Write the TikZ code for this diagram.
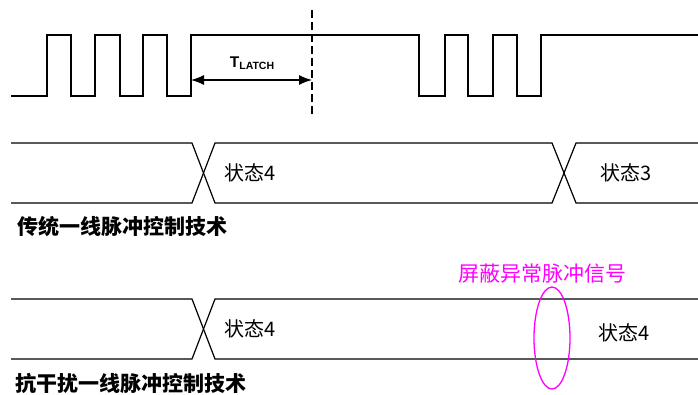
\documentclass[tikz,border=0pt]{standalone}
\usepackage{fontspec}
\setmainfont{Noto Sans CJK SC}
\newfontfamily\latchfont{Liberation Sans}
\usetikzlibrary{arrows.meta,positioning,calc}
\definecolor{MaskPink}{HTML}{FF00FF}
\newcommand{\TLatch}{{\latchfont\bfseries\fontsize{15.5}{16}\selectfont T\raisebox{-0.3ex}{\fontsize{10.5}{11}\selectfont LATCH}}}
\begin{document}
\begin{tikzpicture}[x=1pt,y=-1pt,
  wave/.style={line width=1.2pt,black},
  busline/.style={line width=1.2pt,black},
  marker/.style={line width=1.2pt,black,dash pattern=on 8pt off 4pt},
  arr/.style={{Latex[length=13pt,width=10pt]}-{Latex[length=13pt,width=10pt]},line width=1.2pt},
  statelabel/.style={font=\fontsize{20}{22}\selectfont,inner sep=0pt},
  title/.style={font=\fontsize{21}{24}\selectfont\bfseries,inner sep=0pt,anchor=west},
  mask/.style={MaskPink,line width=1.3pt},
]
\useasboundingbox (0,0) rectangle (698,394);
% pulse train
\draw[wave] (11,96) -- (47,96) |- (71,35) |- (95,96) |- (120,35) |- (143,96) |- (167,35)
  |- (191,96) |- (419,35) |- (445,96) |- (468,35) |- (493,96) |- (517,35) |- (541,96)
  |- (698,35);
\coordinate (rise) at (191,80);
\coordinate (latchtop) at (312,10);
\coordinate (latchbot) at (312,114);
\coordinate (latch) at (312,80);
\draw[marker] (latchtop) -- (latchbot);
\draw[arr] (rise) -- (latch);
\node (tlatch) at (252,63) {\TLatch};
% traditional bus
\draw[busline] (11,143) -- (192,143) -- (215,203) -- (552,203) -- (576,143) -- (698,143);
\draw[busline] (11,203) -- (192,203) -- (215,143) -- (552,143) -- (576,203) -- (698,203);
\node[statelabel] (s4a) at (250,173) {状态4};
\node[statelabel] (s3) at (626,173) {状态3};
\node[title] (trad) at (17,226) {传统一线脉冲控制技术};
% anti-interference bus
\draw[busline] (11,299) -- (192,299) -- (215,359) -- (698,359);
\draw[busline] (11,359) -- (192,359) -- (215,299) -- (698,299);
\node[statelabel] (s4b) at (250,329) {状态4};
\node[statelabel] (s4c) at (624,333) {状态4};
\node[title] (anti) at (15,383) {抗干扰一线脉冲控制技术};
\draw[mask] (552,338) ellipse [x radius=18,y radius=51];
\node[statelabel,text=MaskPink,font=\fontsize{21}{24}\selectfont] (maskl) at (542,274) {屏蔽异常脉冲信号};
\end{tikzpicture}
\end{document}
